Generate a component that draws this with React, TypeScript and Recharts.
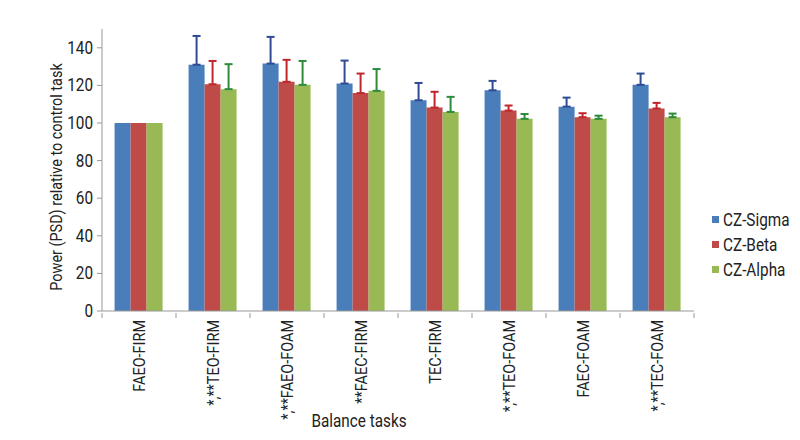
import React from "react";
import { BarChart, Bar, XAxis, YAxis, ErrorBar, Legend, Label } from "recharts";

const categories = [
  "FAEO-FIRM",
  "*,**TEO-FIRM",
  "*,**FAEO-FOAM",
  "**FAEC-FIRM",
  "TEC-FIRM",
  "*,**TEO-FOAM",
  "FAEC-FOAM",
  "*,**TEC-FOAM",
];

const sigma = [100, 131, 131.6, 121, 112.1, 117.4, 108.7, 120.3];
const beta = [100, 120.6, 121.9, 115.9, 108.2, 106.6, 103.1, 107.7];
const alpha = [100, 118, 120.3, 117.1, 105.9, 102.2, 102.2, 103.1];

// upper error only (null = no bar drawn)
const sigmaErr = [null, 15.3, 14.2, 12.2, 9.2, 5, 4.8, 6];
const betaErr = [null, 12.4, 11.7, 10.4, 8.4, 2.7, 2.1, 3];
const alphaErr = [null, 13.3, 12.7, 11.6, 8, 2.6, 1.7, 1.9];

const yTicks = [0, 20, 40, 60, 80, 100, 120, 140];

const series = [
  { key: "sigma", name: "CZ-Sigma", fill: "#4a7ebb", err: "#2f4b96" },
  { key: "beta", name: "CZ-Beta", fill: "#be4b48", err: "#c0262c" },
  { key: "alpha", name: "CZ-Alpha", fill: "#98b954", err: "#2e8b3a" },
];

const up = (e: number | null) => (e == null ? null : [0, e]);

const data = categories.map((task, i) => ({
  task,
  sigma: sigma[i],
  beta: beta[i],
  alpha: alpha[i],
  sigmaErr: up(sigmaErr[i]),
  betaErr: up(betaErr[i]),
  alphaErr: up(alphaErr[i]),
}));

// the original uses a condensed face; squeeze Roboto horizontally to get close
const FONT = "Roboto, 'Noto Sans', sans-serif";
const SX = 0.85;

function CText({ x, y, angle = 0, anchor = "middle", size = 17, baseline, children }: any) {
  return (
    <text
      transform={`translate(${x},${y}) rotate(${angle}) scale(${SX},1)`}
      textAnchor={anchor}
      dominantBaseline={baseline}
      fontFamily={FONT}
      fontSize={size}
      fill="#222"
    >
      {children}
    </text>
  );
}

function TaskTick({ x, y, payload, index, visibleTicksCount }: any) {
  const half = payload.offset ?? 37;
  return (
    <g>
      <line x1={x - half} y1={y - 8} x2={x - half} y2={y - 3} stroke="#999" />
      {index === visibleTicksCount - 1 && (
        <line x1={x + half} y1={y - 8} x2={x + half} y2={y - 3} stroke="#999" />
      )}
      <CText x={x} y={y - 1} angle={-90} anchor="end" baseline="central" size={17}>
        {payload.value}
      </CText>
    </g>
  );
}

function ValueTick({ x, y, payload }: any) {
  return (
    <CText x={x} y={y} anchor="end" baseline="central" size={18}>
      {payload.value}
    </CText>
  );
}

function YTitle({ viewBox }: any) {
  return (
    <CText x={viewBox.x + 56} y={viewBox.y + viewBox.height / 2 + 7} angle={-90} baseline="central" size={17}>
      Power (PSD) relative to control task
    </CText>
  );
}

function XTitle({ viewBox }: any) {
  return (
    <CText x={viewBox.x + viewBox.width / 2 - 39} y={viewBox.y + 116} size={18}>
      Balance tasks
    </CText>
  );
}

function LegendBox() {
  return (
    <div style={{ fontFamily: FONT, fontSize: 18, color: "#222" }}>
      {series.map((s) => (
        <div key={s.key} style={{ display: "flex", alignItems: "center", height: 25 }}>
          <span style={{ width: 7, height: 7, background: s.fill, marginRight: 4, display: "inline-block" }} />
          <span style={{ display: "inline-block", transform: `scaleX(${SX})`, transformOrigin: "left center" }}>{s.name}</span>
        </div>
      ))}
    </div>
  );
}

export default function App() {
  return (
    <div style={{ position: "absolute", left: 0, top: 0, width: 800, height: 440, background: "#fff" }}>
      <BarChart
        width={800}
        height={440}
        data={data}
        margin={{ top: 29, right: 16, left: 0, bottom: 0 }}
        barCategoryGap="17%"
        barGap={0}
      >
        <XAxis
          dataKey="task"
          height={129}
          stroke="#999"
          tickSize={8}
          interval={0}
          tick={<TaskTick />}
          tickLine={false}
        >
          <Label content={<XTitle />} />
        </XAxis>
        <YAxis
          domain={[0, 150]}
          ticks={yTicks}
          width={102}
          stroke="#999"
          tickSize={5}
          tickMargin={4}
          tick={<ValueTick />}
        >
          <Label content={<YTitle />} />
        </YAxis>
        <Legend
          layout="vertical"
          align="right"
          verticalAlign="top"
          content={<LegendBox />}
          wrapperStyle={{ width: 90, top: 207, left: 712 }}
        />
        {series.map((s) => (
          <Bar key={s.key} dataKey={s.key} name={s.name} fill={s.fill} isAnimationActive={false}>
            <ErrorBar dataKey={`${s.key}Err`} width={4} stroke={s.err} strokeWidth={2} isAnimationActive={false} />
          </Bar>
        ))}
      </BarChart>
    </div>
  );
}
